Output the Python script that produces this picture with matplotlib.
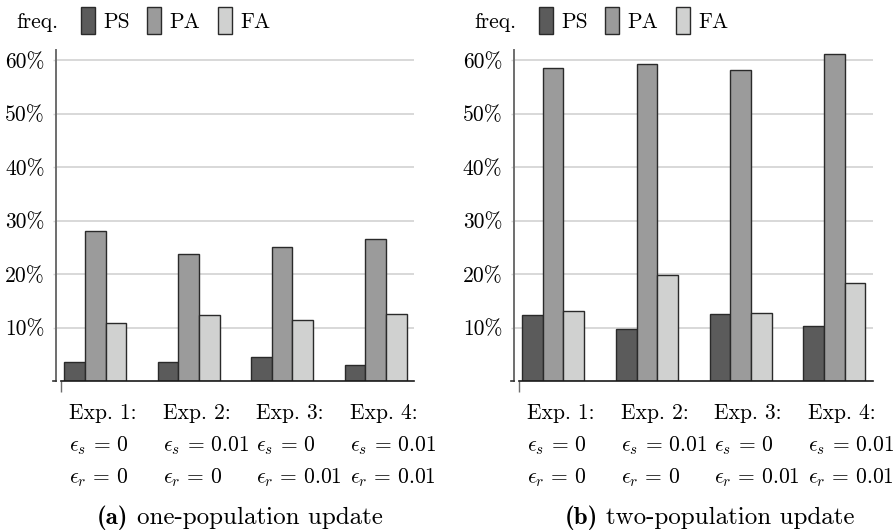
import matplotlib
matplotlib.use("Agg")
import matplotlib.pyplot as plt
import matplotlib.transforms as mtransforms
from matplotlib.patches import Patch
import numpy as np

plt.rcParams['mathtext.fontset'] = 'cm'
plt.rcParams['font.family'] = ['cmr10', 'DejaVu Serif']
plt.rcParams['axes.formatter.use_mathtext'] = True

series = ["PS", "PA", "FA"]
colors = ["#5b5b5b", "#9b9b9b", "#d0d1d0"]
exp_labels = ["Exp. 1:", "Exp. 2:", "Exp. 3:", "Exp. 4:"]
eps_s = ["0", "0.01", "0", "0.01"]
eps_r = ["0", "0", "0.01", "0.01"]

one_pop = {
    "PS": [3.5, 3.55, 4.55, 2.9],
    "PA": [28.0, 23.8, 25.0, 26.5],
    "FA": [10.9, 12.3, 11.35, 12.6],
}
two_pop = {
    "PS": [12.4, 9.8, 12.5, 10.2],
    "PA": [58.5, 59.3, 58.2, 61.1],
    "FA": [13.0, 19.9, 12.7, 18.4],
}
captions = [("(a)", "one-population update"), ("(b)", "two-population update")]
yticks = [10, 20, 30, 40, 50, 60]

W, H = 895, 532
fig = plt.figure(figsize=(W / 100, H / 100), dpi=100)

axes_px = [(56.5, 414.0), (514.3, 872.7)]
bottom_px, top_px = 381.0, 50.0
data_sets = [one_pop, two_pop]
legend_px = [(16, 81), (474, 539)]
caption_px = [(97, 137), (565, 606)]

bw = 0.22
xlim = (-0.415, 3.41)
x = np.arange(len(exp_labels))

for i, (ax_l, ax_r) in enumerate(axes_px):
    ax = fig.add_axes([ax_l / W, 1 - bottom_px / H, (ax_r - ax_l) / W, (bottom_px - top_px) / H])
    d = data_sets[i]
    for j, s in enumerate(series):
        ax.bar(x + (j - 1) * bw, d[s], width=bw, color=colors[j],
               edgecolor="#2a2a2a", linewidth=1.0, zorder=3, label=s)
    ax.set_xlim(*xlim)
    ax.set_ylim(0, 61.9)
    ax.set_yticks(yticks)
    ax.set_yticklabels([f"{v}%" for v in yticks], fontsize=15.5)
    ax.yaxis.grid(True, color="#d6d6d6", linewidth=1.3, zorder=0)
    ax.set_axisbelow(True)
    ax.tick_params(axis="y", length=2.5, width=1.0, color="#d6d6d6", pad=6)
    for sp in ["top", "right"]:
        ax.spines[sp].set_visible(False)
    ax.spines["left"].set_color("#6e6e6e")
    ax.spines["left"].set_linewidth(1.4)
    ax.spines["bottom"].set_color("#1a1a1a")
    ax.spines["bottom"].set_linewidth(1.2)
    ax.spines["bottom"].set_zorder(4)
    stub = xlim[0] + 0.045
    ax.spines["bottom"].set_bounds(stub, xlim[1])
    ax.set_xticks([stub])
    ax.set_xticklabels([""])
    ax.tick_params(axis="x", length=8, width=1.0, color="#6e6e6e", direction="out")
    # zero tick on y
    ax.plot([xlim[0] - 0.04, xlim[0]], [0, 0], color="#333333", lw=1.2,
            clip_on=False, zorder=5)

    trans = mtransforms.blended_transform_factory(ax.transData, fig.transFigure)
    for k in range(len(exp_labels)):
        xl = x[k] - 0.28
        ax.text(xl, 1 - 413 / H, exp_labels[k], transform=trans, fontsize=15.5,
                ha="left", va="center")
        ax.text(xl, 1 - 446 / H, r"$\epsilon_s\,=\,%s$" % eps_s[k], transform=trans,
                fontsize=15.5, ha="left", va="center")
        ax.text(xl, 1 - 478 / H, r"$\epsilon_r\,=\,%s$" % eps_r[k], transform=trans,
                fontsize=15.5, ha="left", va="center")

    lab, cap = captions[i]
    lx0, cx0 = caption_px[i]
    fig.text(lx0 / W, 1 - 518 / H, lab, fontsize=18,
             family="cmb10", ha="left", va="center")
    fig.text(cx0 / W, 1 - 518 / H, cap, fontsize=18,
             ha="left", va="center")

    fx, lx = legend_px[i]
    fig.text(fx / W, 1 - 22 / H, "freq.", fontsize=15.5, ha="left", va="center")
    handles = [Patch(facecolor=colors[j], edgecolor="#2a2a2a", linewidth=1.0) for j in range(3)]
    fig.legend(handles, series, loc="center left", bbox_to_anchor=(lx / W, 1 - 20.5 / H),
               ncol=3, frameon=False, fontsize=15.5, handlelength=0.66, handleheight=1.55,
               handletextpad=0.38, columnspacing=0.8, borderpad=0, borderaxespad=0)

fig.savefig("out.png", dpi=100)
